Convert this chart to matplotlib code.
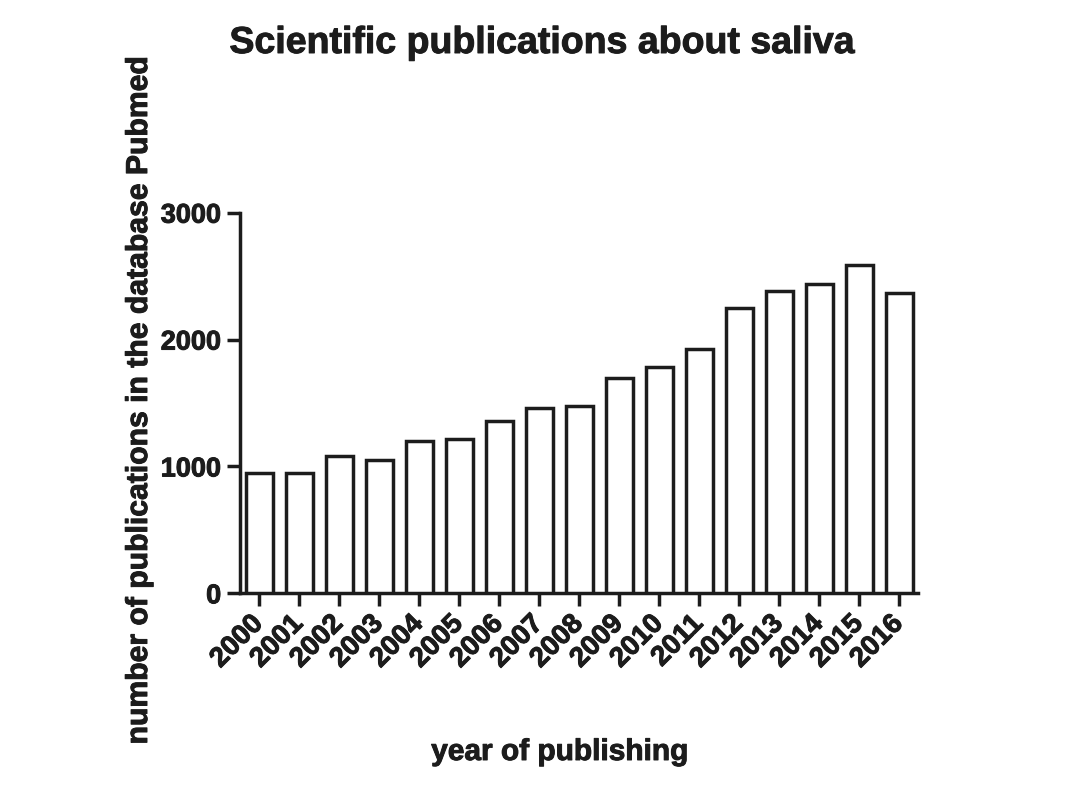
import numpy as np
import matplotlib
matplotlib.use("Agg")
import matplotlib.pyplot as plt
import matplotlib.patheffects as pe

# publications per year
years = ["2000", "2001", "2002", "2003", "2004", "2005", "2006", "2007",
         "2008", "2009", "2010", "2011", "2012", "2013", "2014", "2015",
         "2016"]
counts = [945, 945, 1083, 1051, 1203, 1213, 1360, 1458,
          1478, 1694, 1781, 1923, 2251, 2385, 2437, 2587, 2364]
yTicks = [0, 1000, 2000, 3000]

inkCol = "#1c1c1c"
fontFam = ["Liberation Sans", "DejaVu Sans"]
plt.rcParams['font.family'] = fontFam
plt.rcParams['font.weight'] = 'bold'
heavy = [pe.withStroke(linewidth=0.7, foreground=inkCol)]  # fatter glyphs

fig = plt.figure(figsize=(10.67, 8), dpi=100)
ax = fig.add_axes([240/1067, 1 - 593.3/800, (918-240)/1067, (593.3-212.7)/800])

xPos = np.arange(len(years))
ax.bar(xPos, counts, width=0.68, color="white", edgecolor=inkCol,
       linewidth=2.5, zorder=3)

ax.set_xlim(-0.48, len(years) - 1 + 0.47)
ax.set_ylim(0, 3000)
ax.set_yticks(yTicks)
ax.set_yticklabels([str(t) for t in yTicks], fontsize=19.5, fontweight='bold',
                   color=inkCol, path_effects=heavy)
ax.set_xticks(xPos)
ax.set_xticklabels(years, rotation=45, ha='right', va='center',
                   rotation_mode='anchor', fontsize=20,
                   fontweight='bold', color=inkCol, path_effects=heavy)

for side in ['top', 'right']:
  ax.spines[side].set_visible(False)
for side in ['left', 'bottom']:
  ax.spines[side].set_linewidth(2.5)
  ax.spines[side].set_color(inkCol)
  ax.spines[side].set_capstyle('projecting')

ax.tick_params(axis='both', direction='out', length=9.5, width=2.5,
               color=inkCol)
ax.tick_params(axis='x', pad=9.5)
ax.tick_params(axis='y', pad=4)

fig.text(542/1067, 1 - 43/800, "Scientific publications about saliva",
         ha='center', va='center', fontsize=27, fontweight='bold',
         color=inkCol, path_effects=heavy)
fig.text(560/1067, 1 - 752/800, "year of publishing", ha='center',
         va='center', fontsize=21.5, fontweight='bold', color=inkCol,
         path_effects=heavy)
fig.text(139/1067, 1 - 401/800,
         "number of publications in the database Pubmed", ha='center',
         va='center', rotation=90, fontsize=21.7, fontweight='bold',
         color=inkCol, path_effects=heavy)

fig.savefig("out.png", dpi=100)
